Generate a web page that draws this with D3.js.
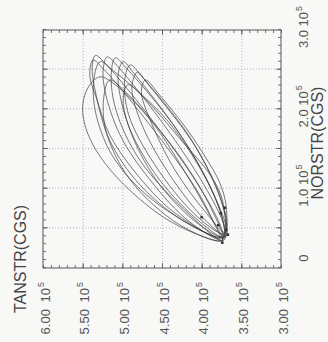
<!DOCTYPE html>
<html>
<head>
<meta charset="utf-8">
<script src="https://cdn.jsdelivr.net/npm/d3@7"></script>
<style>
  html, body { margin: 0; padding: 0; background: #f8f8f7; }
  svg { display: block; font-family: "Liberation Sans", Arial, sans-serif; }
</style>
</head>
<body>
<div id="chart"></div>
<script>
// axis values (units of 10^5 CGS)
const norTicks = [0, 1.0, 2.0, 3.0];
const norTickLabels = ["0", "1.0", "2.0", "3.0"];
const tanTicks = [3.0, 3.5, 4.0, 4.5, 5.0, 5.5, 6.0];
const tanTickLabels = ["3.00", "3.50", "4.00", "4.50", "5.00", "5.50", "6.00"];
const norGrid = [0.5, 1.0, 1.5, 2.0, 2.5];
const tanGrid = [3.5, 4.0, 4.5, 5.0, 5.5];

// stress loops, [NORSTR, TANSTR]
const loop1 = [[2.41,5.28],[2.31,5.09],[1.87,4.65],[1.11,4.15],[0.61,3.87],[0.35,3.74],[0.59,4.40],[1.20,5.12],[1.68,5.43],[2.05,5.50],[2.31,5.41]];
const loop2 = [[2.62,5.37],[2.50,5.23],[1.80,4.65],[1.01,4.08],[0.54,3.83],[0.38,3.77],[0.71,4.36],[1.21,4.84],[1.68,5.16],[2.12,5.32],[2.43,5.41]];
const loop3 = [[2.68,5.34],[2.55,5.19],[1.74,4.53],[1.01,4.02],[0.55,3.77],[0.38,3.73],[0.58,4.21],[1.05,4.78],[1.61,5.16],[2.18,5.33],[2.52,5.38]];
const loop4 = [[2.66,5.19],[2.52,5.04],[1.70,4.40],[0.96,3.92],[0.53,3.72],[0.35,3.72],[0.58,4.15],[1.11,4.65],[1.68,5.03],[2.24,5.22],[2.52,5.24]];
const loop5 = [[2.60,4.99],[2.45,4.85],[1.59,4.21],[0.89,3.83],[0.50,3.69],[0.38,3.71],[0.58,4.02],[1.11,4.53],[1.74,4.90],[2.24,5.04],[2.46,5.05]];
const loop6 = [[2.47,4.81],[2.32,4.68],[1.53,4.08],[0.89,3.77],[0.50,3.68],[0.40,3.69],[0.61,3.96],[1.17,4.40],[1.80,4.75],[2.27,4.88]];
const loop7 = [[2.37,4.71],[2.18,4.53],[1.74,4.18],[1.36,3.93],[1.07,3.77],[0.77,3.69],[0.45,3.71],[0.63,3.89],[1.24,4.34],[1.87,4.65],[2.22,4.76]];
const loop8 = [[2.31,4.93],[2.17,4.75],[1.59,4.24],[1.17,3.89],[0.86,3.74],[0.40,3.73],[0.54,4.02],[1.05,4.53],[1.68,4.88],[2.12,4.99]];
const loop9 = [[2.37,5.16],[2.24,4.98],[1.40,4.27],[0.73,3.87],[0.35,3.74],[0.54,4.27],[1.11,4.90],[1.74,5.21],[2.18,5.23]];
const loop10 = [[2.60,5.28],[2.50,5.13],[1.89,4.46],[1.15,3.96],[0.63,3.74],[0.39,3.72],[0.79,4.53],[1.36,5.09],[1.93,5.33],[2.37,5.36]];
const loop11 = [[2.65,5.09],[2.52,4.95],[1.78,4.34],[1.02,3.89],[0.48,3.71],[0.35,3.74],[0.67,4.15],[1.36,4.78],[1.99,5.08],[2.43,5.14]];
const loop12 = [[2.56,4.90],[2.42,4.76],[1.65,4.15],[0.96,3.79],[0.54,3.68],[0.43,3.72],[0.67,4.08],[1.30,4.59],[1.93,4.92],[2.37,4.97]];
const loops = [loop1, loop2, loop3, loop4, loop5, loop6, loop7, loop8, loop9, loop10, loop11, loop12];

// point markers near the bottom of the loops
const markers = [[0.76,3.71],[0.69,3.76],[0.64,4.00],[0.54,3.79],[0.48,3.69],[0.32,3.74],[0.42,3.67]];

const W = 238, H = 238;

const svg = d3.select("#chart").append("svg")
  .attr("width", 328)
  .attr("height", 342);

svg.append("rect").attr("width", 328).attr("height", 342).attr("fill", "#f8f8f7");

// chart is drawn upright and turned a quarter turn, like the scanned page
const g = svg.append("g").attr("transform", "translate(43,268) rotate(-90)");

const x = d3.scaleLinear().domain([0, 3]).range([0, W]);
const y = d3.scaleLinear().domain([3, 6]).range([H, 0]);

// grid
const gx = g.append("g").call(d3.axisBottom(x).tickValues(norGrid).tickSize(H).tickFormat(""));
const gy = g.append("g").call(d3.axisRight(y).tickValues(tanGrid).tickSize(W).tickFormat(""));
[gx, gy].forEach(s => {
  s.select(".domain").remove();
  s.selectAll("line").attr("stroke", "#9a9a9a").attr("stroke-width", 0.7).attr("stroke-dasharray", "1,2");
});

// ticks on all four sides, pointing in
function ticks(axis, tf, vals, len) {
  const s = g.append("g").attr("transform", tf)
    .call(axis.tickValues(vals).tickSize(-len).tickFormat(""));
  s.select(".domain").remove();
  s.selectAll("line").attr("stroke", "#555").attr("stroke-width", 0.8);
}
ticks(d3.axisBottom(x), `translate(0,${H})`, x.ticks(30), 3);
ticks(d3.axisTop(x), "translate(0,0)", x.ticks(30), 3);
ticks(d3.axisLeft(y), "translate(0,0)", y.ticks(30), 3);
ticks(d3.axisRight(y), `translate(${W},0)`, y.ticks(30), 3);
ticks(d3.axisBottom(x), `translate(0,${H})`, norGrid, 5);
ticks(d3.axisTop(x), "translate(0,0)", norGrid, 5);
ticks(d3.axisLeft(y), "translate(0,0)", tanGrid, 5);
ticks(d3.axisRight(y), `translate(${W},0)`, tanGrid, 5);

// frame
g.append("rect")
  .attr("width", W).attr("height", H)
  .attr("fill", "none").attr("stroke", "#555").attr("stroke-width", 1);

// loops
const line = d3.line()
  .x(d => x(d[0]))
  .y(d => y(d[1]))
  .curve(d3.curveCatmullRomClosed.alpha(0.5));

g.append("g").selectAll("path")
  .data(loops)
  .join("path")
  .attr("d", line)
  .attr("fill", "none")
  .attr("stroke", "#3a3a3a")
  .attr("stroke-opacity", 0.85)
  .attr("stroke-width", 0.8);

g.append("g").selectAll("rect")
  .data(markers)
  .join("rect")
  .attr("x", d => x(d[0]) - 1.3)
  .attr("y", d => y(d[1]) - 1.3)
  .attr("width", 2.6)
  .attr("height", 2.6)
  .attr("fill", "#333");

// tick labels
const nl = g.append("g").selectAll("text")
  .data(norTicks)
  .join("text")
  .attr("x", d => x(d) + (d === 0 ? 10 : 3))
  .attr("y", H + 27)
  .attr("text-anchor", "middle")
  .attr("font-size", 13)
  .attr("fill", "#555");
nl.append("tspan").text((d, i) => norTickLabels[i]);
nl.filter(d => d !== 0).append("tspan").text(" 10");
nl.filter(d => d !== 0).append("tspan").attr("dy", -6).attr("dx", 1).attr("font-size", 9).text("5");

const tl = g.append("g").selectAll("text")
  .data(tanTicks)
  .join("text")
  .attr("x", -14)
  .attr("y", d => y(d) + 6.5)
  .attr("text-anchor", "end")
  .attr("font-size", 13)
  .attr("fill", "#555");
tl.append("tspan").text((d, i) => tanTickLabels[i]);
tl.append("tspan").attr("dx", 3).text(" 10");
tl.append("tspan").attr("dy", -6).attr("dx", 1).attr("font-size", 9).text("5");

// axis titles
g.append("text")
  .attr("x", 9)
  .attr("y", -17)
  .attr("text-anchor", "middle")
  .attr("font-size", 16)
  .attr("fill", "#444")
  .text("TANSTR(CGS)");

g.append("text")
  .attr("x", 125)
  .attr("y", H + 42)
  .attr("text-anchor", "middle")
  .attr("font-size", 16)
  .attr("fill", "#444")
  .text("NORSTR(CGS)");
</script>
</body>
</html>
